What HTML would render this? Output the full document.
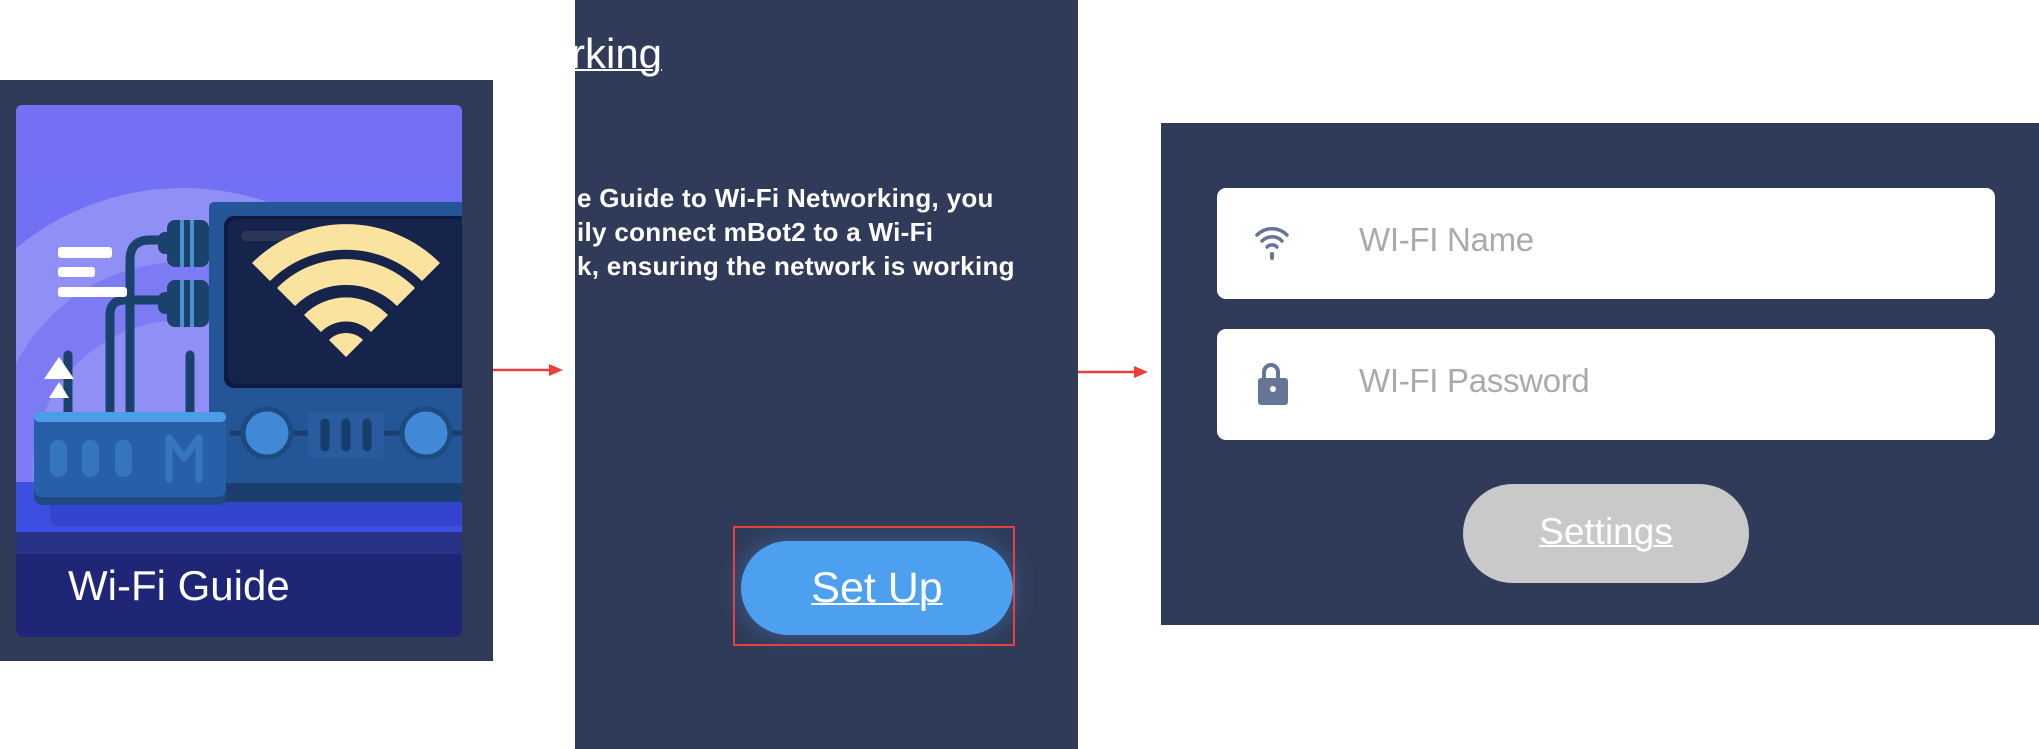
<!DOCTYPE html>
<html><head><meta charset="utf-8"><style>
html,body{margin:0;padding:0;background:#fff;width:2039px;height:749px;overflow:hidden;font-family:"Liberation Sans",sans-serif}
.abs{position:absolute}
</style></head><body>
<div class="abs" style="left:0;top:80px;width:493px;height:581px;background:#2f3b58"></div>
<svg class="abs" style="left:0;top:0" width="2039" height="749">
<defs>
<clipPath id="cc"><rect x="16" y="105" width="446" height="532" rx="6"/></clipPath>
<linearGradient id="bg" x1="0" y1="0" x2="0" y2="1"><stop offset="0" stop-color="#7470f4"/><stop offset="1" stop-color="#6a70f2"/></linearGradient>
<filter id="gl" x="-30%" y="-50%" width="160%" height="200%"><feGaussianBlur stdDeviation="12"/></filter>
</defs>
<g clip-path="url(#cc)">
<rect x="16" y="105" width="446" height="532" fill="url(#bg)"/>
<circle cx="183" cy="450" r="262" fill="#908ff6"/>
<circle cx="183" cy="450" r="188" fill="#7c7bf4"/>
<circle cx="183" cy="470" r="150" fill="#908ff6"/>
<rect x="16" y="482" width="446" height="50" fill="#3d4fe0"/>
<rect x="50" y="470" width="420" height="56" rx="8" fill="#3344cf"/>
<rect x="16" y="532" width="446" height="22" fill="#283287"/>
<rect x="16" y="554" width="446" height="83" fill="#1f2675"/>
<rect x="209" y="202" width="260" height="300" rx="5" fill="#245697"/>
<rect x="209" y="483" width="260" height="19" fill="#1b3f6c"/>
<rect x="224" y="216" width="245" height="172" rx="10" fill="#101a40"/>
<rect x="228" y="219" width="241" height="165" rx="9" fill="#16244c"/>
<rect x="241" y="231" width="60" height="10" rx="5" fill="#2a3658"/>
<g fill="#fae39f" transform="translate(346,357)">
<path d="M-94,-94 A133,133 0 0 1 94,-94 L76,-76 A108,108 0 0 0 -76,-76 Z"/>
<path d="M-69,-69 A97,97 0 0 1 69,-69 L51,-51 A72,72 0 0 0 -51,-51 Z"/>
<path d="M-42,-42 A59,59 0 0 1 42,-42 L25,-25 A35,35 0 0 0 -25,-25 Z"/>
<path d="M-17,-17 A24,24 0 0 1 17,-17 L0,0 Z"/>
</g>
<line x1="230" y1="433" x2="462" y2="433" stroke="#1b3f6c" stroke-width="5"/>
<rect x="308" y="412" width="76" height="46" rx="6" fill="#2a5b9e"/>
<g stroke="#173e6a" stroke-width="9" stroke-linecap="round"><line x1="325" y1="423" x2="325" y2="447"/><line x1="346" y1="423" x2="346" y2="447"/><line x1="367" y1="423" x2="367" y2="447"/></g>
<circle cx="267" cy="433" r="24" fill="#4189d6" stroke="#1d4a80" stroke-width="5"/>
<circle cx="426" cy="433" r="24" fill="#4189d6" stroke="#1d4a80" stroke-width="5"/>
<g fill="none" stroke="#19426d" stroke-width="9" stroke-linecap="round">
<path d="M130,410 V260 Q130,240 150,240 H170"/>
<path d="M110,410 V315 Q110,300 125,300 H170"/>
<line x1="68" y1="355" x2="68" y2="412"/>
<line x1="190" y1="355" x2="190" y2="412"/>
</g>
<g fill="#19426d">
<rect x="167" y="220" width="42" height="47" rx="8"/><rect x="158" y="232" width="15" height="22" rx="7"/>
<rect x="167" y="280" width="42" height="47" rx="8"/><rect x="158" y="292" width="15" height="22" rx="7"/>
</g>
<g fill="#4b93cf"><rect x="180" y="220" width="4" height="47"/><rect x="190" y="220" width="4" height="47"/><rect x="180" y="280" width="4" height="47"/><rect x="190" y="280" width="4" height="47"/></g>
<rect x="34" y="412" width="192" height="93" rx="8" fill="#1d4a80"/>
<rect x="34" y="412" width="192" height="85" rx="8" fill="#2760a8"/>
<rect x="34" y="412" width="192" height="10" rx="5" fill="#4c9de8"/>
<g fill="#3575bb"><rect x="50" y="440" width="17" height="37" rx="8"/><rect x="82" y="440" width="17" height="37" rx="8"/><rect x="115" y="440" width="17" height="37" rx="8"/></g>
<path d="M169,479 V438 L184,458 L199,438 V479" fill="none" stroke="#3575bb" stroke-width="7" stroke-linecap="round" stroke-linejoin="round"/>
<g fill="#fff"><rect x="58" y="247" width="54" height="11" rx="3"/><rect x="58" y="267" width="37" height="10" rx="3"/><rect x="58" y="287" width="69" height="10" rx="3"/>
<path d="M59,357 L74,379 L44,379 Z"/><path d="M59,382 L69,398 L49,398 Z"/></g>
</g>
<text x="68" y="600" font-family="Liberation Sans" font-size="42" fill="#fff">Wi-Fi Guide</text>
<g stroke="#e8403c" stroke-width="2.5"><line x1="493" y1="370" x2="550" y2="370"/><line x1="1078" y1="372" x2="1135" y2="372"/></g>
<g fill="#e8403c"><path d="M563,370 L549,364 L549,376 Z"/><path d="M1148,372 L1134,366 L1134,378 Z"/></g>
</svg>
<div class="abs" style="left:575px;top:0;width:503px;height:749px;background:#2f3b58;overflow:hidden">
<div class="abs" style="left:-4px;top:30px;font-size:42px;color:#fff;text-decoration:underline;text-decoration-thickness:2px">rking</div>
<div class="abs" style="left:2px;top:181px;font-size:26px;font-weight:bold;color:#fff;line-height:34px;white-space:nowrap;letter-spacing:0.3px">e Guide to Wi-Fi Networking, you<br>ily connect mBot2 to a Wi-Fi<br>k, ensuring the network is working</div>
<svg class="abs" style="left:0;top:0" width="503" height="749"><rect x="166" y="541" width="272" height="94" rx="47" fill="#4a7fd0" opacity="0.5" filter="url(#gl)"/></svg>
<div class="abs" style="left:166px;top:541px;width:272px;height:94px;border-radius:47px;background:#4da0f0"></div>
<div class="abs" style="left:166px;top:541px;width:272px;height:94px;line-height:94px;text-align:center;color:#fff;font-size:43px;text-decoration:underline;text-decoration-thickness:2px">Set Up</div>
<div class="abs" style="left:158px;top:526px;width:282px;height:120px;border:2px solid #e8403c;box-sizing:border-box"></div>
</div>
<div class="abs" style="left:1161px;top:123px;width:878px;height:502px;background:#2f3b58"></div>
<div class="abs" style="left:1217px;top:188px;width:778px;height:111px;background:#fff;border-radius:9px"></div>
<div class="abs" style="left:1217px;top:329px;width:778px;height:111px;background:#fff;border-radius:9px"></div>
<svg class="abs" style="left:1250px;top:222px" width="44" height="44">
<g fill="none" stroke="#647596" stroke-width="3.5" stroke-linecap="round">
<path d="M7,13 A21,21 0 0 1 37,13"/><path d="M12,19 A14,14 0 0 1 32,19"/><path d="M17,25 A7,7 0 0 1 27,25"/></g>
<rect x="20" y="30" width="4" height="8" rx="2" fill="#647596"/>
</svg>
<svg class="abs" style="left:1256px;top:361px" width="34" height="46">
<path d="M8,19 V11 A7,7 0 0 1 22,11 V19" fill="none" stroke="#647596" stroke-width="4"/>
<rect x="2" y="17" width="30" height="27" rx="3" fill="#647596"/>
<circle cx="17" cy="28" r="3" fill="#fff"/>
</svg>
<div class="abs" style="left:1359px;top:221px;font-size:33px;color:#aaaaaa;letter-spacing:-0.3px">WI-FI Name</div>
<div class="abs" style="left:1359px;top:362px;font-size:33px;color:#aaaaaa;letter-spacing:-0.3px">WI-FI Password</div>
<div class="abs" style="left:1463px;top:484px;width:286px;height:99px;border-radius:50px;background:#c9c9c9;line-height:96px;text-align:center;color:#fff;font-size:37px;text-decoration:underline;text-decoration-thickness:2px">Settings</div>
</body></html>
